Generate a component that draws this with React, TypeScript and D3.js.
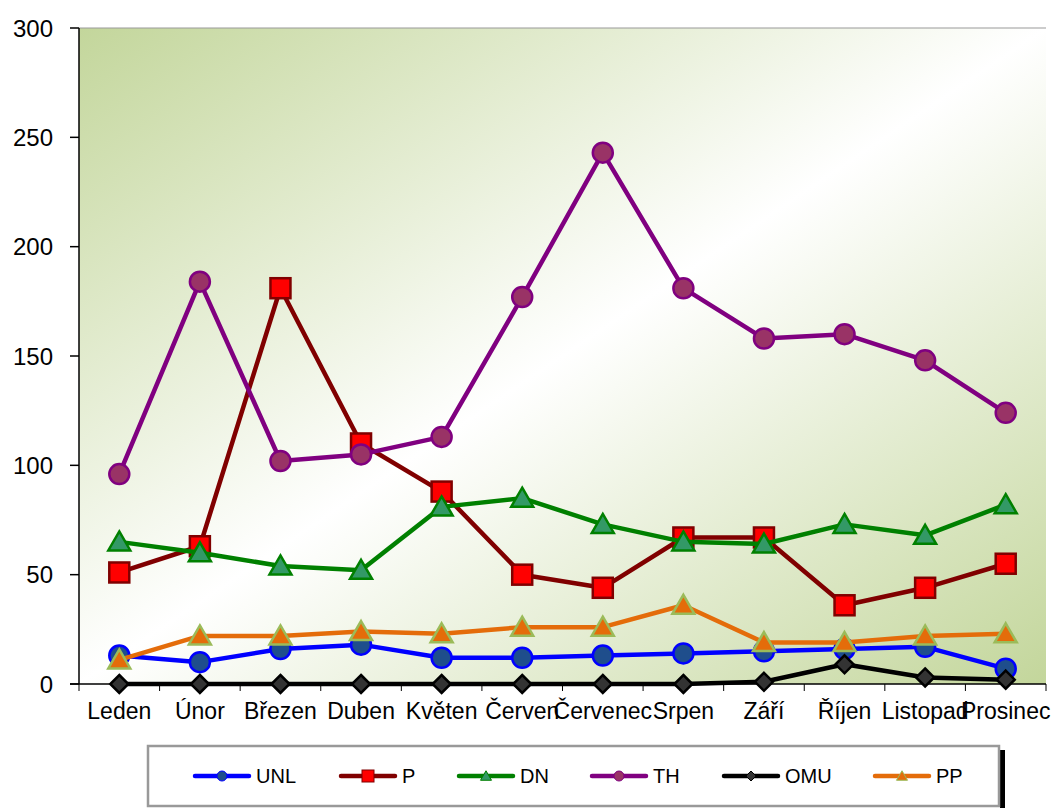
import {useEffect, useRef} from "react";
import * as d3 from "d3";

const months = ["Leden", "Únor", "Březen", "Duben", "Květen", "Červen", "Červenec", "Srpen", "Září", "Říjen", "Listopad", "Prosinec"];
const yTicks = [0, 50, 100, 150, 200, 250, 300];

const unl = [13, 10, 16, 18, 12, 12, 13, 14, 15, 16, 17, 7];
const p = [51, 63, 181, 110, 88, 50, 44, 67, 67, 36, 44, 55];
const dn = [65, 60, 54, 52, 81, 85, 73, 65, 64, 73, 68, 82];
const th = [96, 184, 102, 105, 113, 177, 243, 181, 158, 160, 148, 124];
const omu = [0, 0, 0, 0, 0, 0, 0, 0, 1, 9, 3, 2];
const pp = [11, 22, 22, 24, 23, 26, 26, 36, 19, 19, 22, 23];

type Series = {name: string, values: number[], line: string, fill: string, stroke: string, marker: string};

const series: Series[] = [
  {name: "UNL", values: unl, line: "#0000ff", fill: "#1f4e8c", stroke: "#0000ff", marker: "circle"},
  {name: "P", values: p, line: "#800000", fill: "#ff0000", stroke: "#800000", marker: "square"},
  {name: "DN", values: dn, line: "#008000", fill: "#339966", stroke: "#008000", marker: "triangle"},
  {name: "TH", values: th, line: "#800080", fill: "#993366", stroke: "#800080", marker: "circle"},
  {name: "OMU", values: omu, line: "#000000", fill: "#333333", stroke: "#000000", marker: "diamond"},
  {name: "PP", values: pp, line: "#e46c0a", fill: "#e46c0a", stroke: "#9bbb59", marker: "triangle"},
];

// legend layout (x start of each entry)
const legendX = [195, 341, 459, 592, 724, 875];

const W = 1054, H = 808;
const plot = {left: 79, right: 1046, top: 28, bottom: 684};
const font = "'Liberation Sans', Arial, sans-serif";

const drawMarker = (g: any, kind: string, x: number, y: number, s: number, fill: string, stroke: string, sw: number) => {
  if (kind === "circle") {
    g.append("circle").attr("cx", x).attr("cy", y).attr("r", s)
      .attr("fill", fill).attr("stroke", stroke).attr("stroke-width", sw);
  } else if (kind === "square") {
    g.append("rect").attr("x", x - s).attr("y", y - s).attr("width", 2 * s).attr("height", 2 * s)
      .attr("fill", fill).attr("stroke", stroke).attr("stroke-width", sw);
  } else if (kind === "triangle") {
    const h = s * 1.9;
    g.append("path")
      .attr("d", `M${x},${y - h * 0.55}L${x + s * 1.1},${y + h * 0.45}L${x - s * 1.1},${y + h * 0.45}Z`)
      .attr("fill", fill).attr("stroke", stroke).attr("stroke-width", sw).attr("stroke-linejoin", "miter");
  } else {
    g.append("path")
      .attr("d", `M${x},${y - s}L${x + s},${y}L${x},${y + s}L${x - s},${y}Z`)
      .attr("fill", fill).attr("stroke", stroke).attr("stroke-width", sw);
  }
};

const markerSize: {[k: string]: number} = {circle: 10, square: 10, triangle: 10, diamond: 9};

const App = () => {
  const ref = useRef<SVGSVGElement>(null);

  useEffect(() => {
    const svg = d3.select(ref.current);
    svg.selectAll("*").remove();

    const defs = svg.append("defs");
    const grad = defs.append("linearGradient").attr("id", "bg")
      .attr("x1", 0).attr("y1", 0).attr("x2", 1).attr("y2", 1);
    grad.append("stop").attr("offset", "0%").attr("stop-color", "#c3d69b");
    grad.append("stop").attr("offset", "50%").attr("stop-color", "#ffffff");
    grad.append("stop").attr("offset", "100%").attr("stop-color", "#c3d69b");

    const x = d3.scaleBand().domain(months).range([plot.left, plot.right]);
    const y = d3.scaleLinear().domain([0, 300]).range([plot.bottom, plot.top]);

    // fond
    svg.append("rect").attr("x", plot.left).attr("y", plot.top)
      .attr("width", plot.right - plot.left).attr("height", plot.bottom - plot.top)
      .attr("fill", "url(#bg)");
    svg.append("line").attr("x1", plot.left).attr("x2", plot.right)
      .attr("y1", plot.top).attr("y2", plot.top).attr("stroke", "#999").attr("stroke-width", 1);

    // axe Y
    const yAxis = svg.append("g");
    yAxis.append("line").attr("x1", plot.left).attr("x2", plot.left)
      .attr("y1", plot.top).attr("y2", plot.bottom).attr("stroke", "#000").attr("stroke-width", 1.5);
    yTicks.forEach(t => {
      yAxis.append("line").attr("x1", plot.left - 9).attr("x2", plot.left)
        .attr("y1", y(t)).attr("y2", y(t)).attr("stroke", "#000").attr("stroke-width", 1.5);
      yAxis.append("text").attr("x", 53).attr("y", y(t)).attr("dy", "0.36em")
        .attr("text-anchor", "end").attr("font-family", font).attr("font-size", 24).text(t);
    });

    // axe X
    const xAxis = svg.append("g");
    xAxis.append("line").attr("x1", plot.left - 9).attr("x2", plot.right)
      .attr("y1", plot.bottom).attr("y2", plot.bottom).attr("stroke", "#000").attr("stroke-width", 1.5);
    months.forEach((m, i) => {
      const x0 = x(m)!;
      xAxis.append("line").attr("x1", x0).attr("x2", x0).attr("y1", plot.bottom).attr("y2", plot.bottom + 7)
        .attr("stroke", "#000").attr("stroke-width", 1);
      xAxis.append("text").attr("x", x0 + x.bandwidth() / 2).attr("y", 719)
        .attr("text-anchor", "middle").attr("font-family", font).attr("font-size", 23).text(m);
      if (i === months.length - 1) {
        xAxis.append("line").attr("x1", plot.right).attr("x2", plot.right).attr("y1", plot.bottom).attr("y2", plot.bottom + 7)
          .attr("stroke", "#000").attr("stroke-width", 1);
      }
    });

    // séries
    const cx = (i: number) => x(months[i])! + x.bandwidth() / 2;
    const line = d3.line<number>().x((_, i) => cx(i)).y(d => y(d));
    series.forEach(s => {
      const g = svg.append("g");
      g.append("path").datum(s.values).attr("d", line).attr("fill", "none")
        .attr("stroke", s.line).attr("stroke-width", 4.5).attr("stroke-linejoin", "round");
      s.values.forEach((v, i) => drawMarker(g, s.marker, cx(i), y(v), markerSize[s.marker], s.fill, s.stroke, 2.5));
    });

    // légende
    const leg = svg.append("g");
    leg.append("rect").attr("x", 1000).attr("y", 750).attr("width", 5).attr("height", 58).attr("fill", "#000");
    leg.append("rect").attr("x", 148).attr("y", 746).attr("width", 851).attr("height", 60)
      .attr("fill", "#fff").attr("stroke", "#999").attr("stroke-width", 2.5);
    series.forEach((s, i) => {
      const lx = legendX[i], ly = 776;
      leg.append("line").attr("x1", lx).attr("x2", lx + 54).attr("y1", ly).attr("y2", ly)
        .attr("stroke", s.line).attr("stroke-width", 4.5).attr("stroke-linecap", "round");
      drawMarker(leg, s.marker, lx + 27, ly, s.marker === "square" ? 6 : 5, s.fill, s.stroke, 1);
      leg.append("text").attr("x", lx + 61).attr("y", ly).attr("dy", "0.36em")
        .attr("font-family", font).attr("font-size", 20).text(s.name);
    });
  }, []);

  return <svg ref={ref} width={W} height={H} style={{position: "absolute", left: 0, top: 0}}></svg>;
};

export default App;
